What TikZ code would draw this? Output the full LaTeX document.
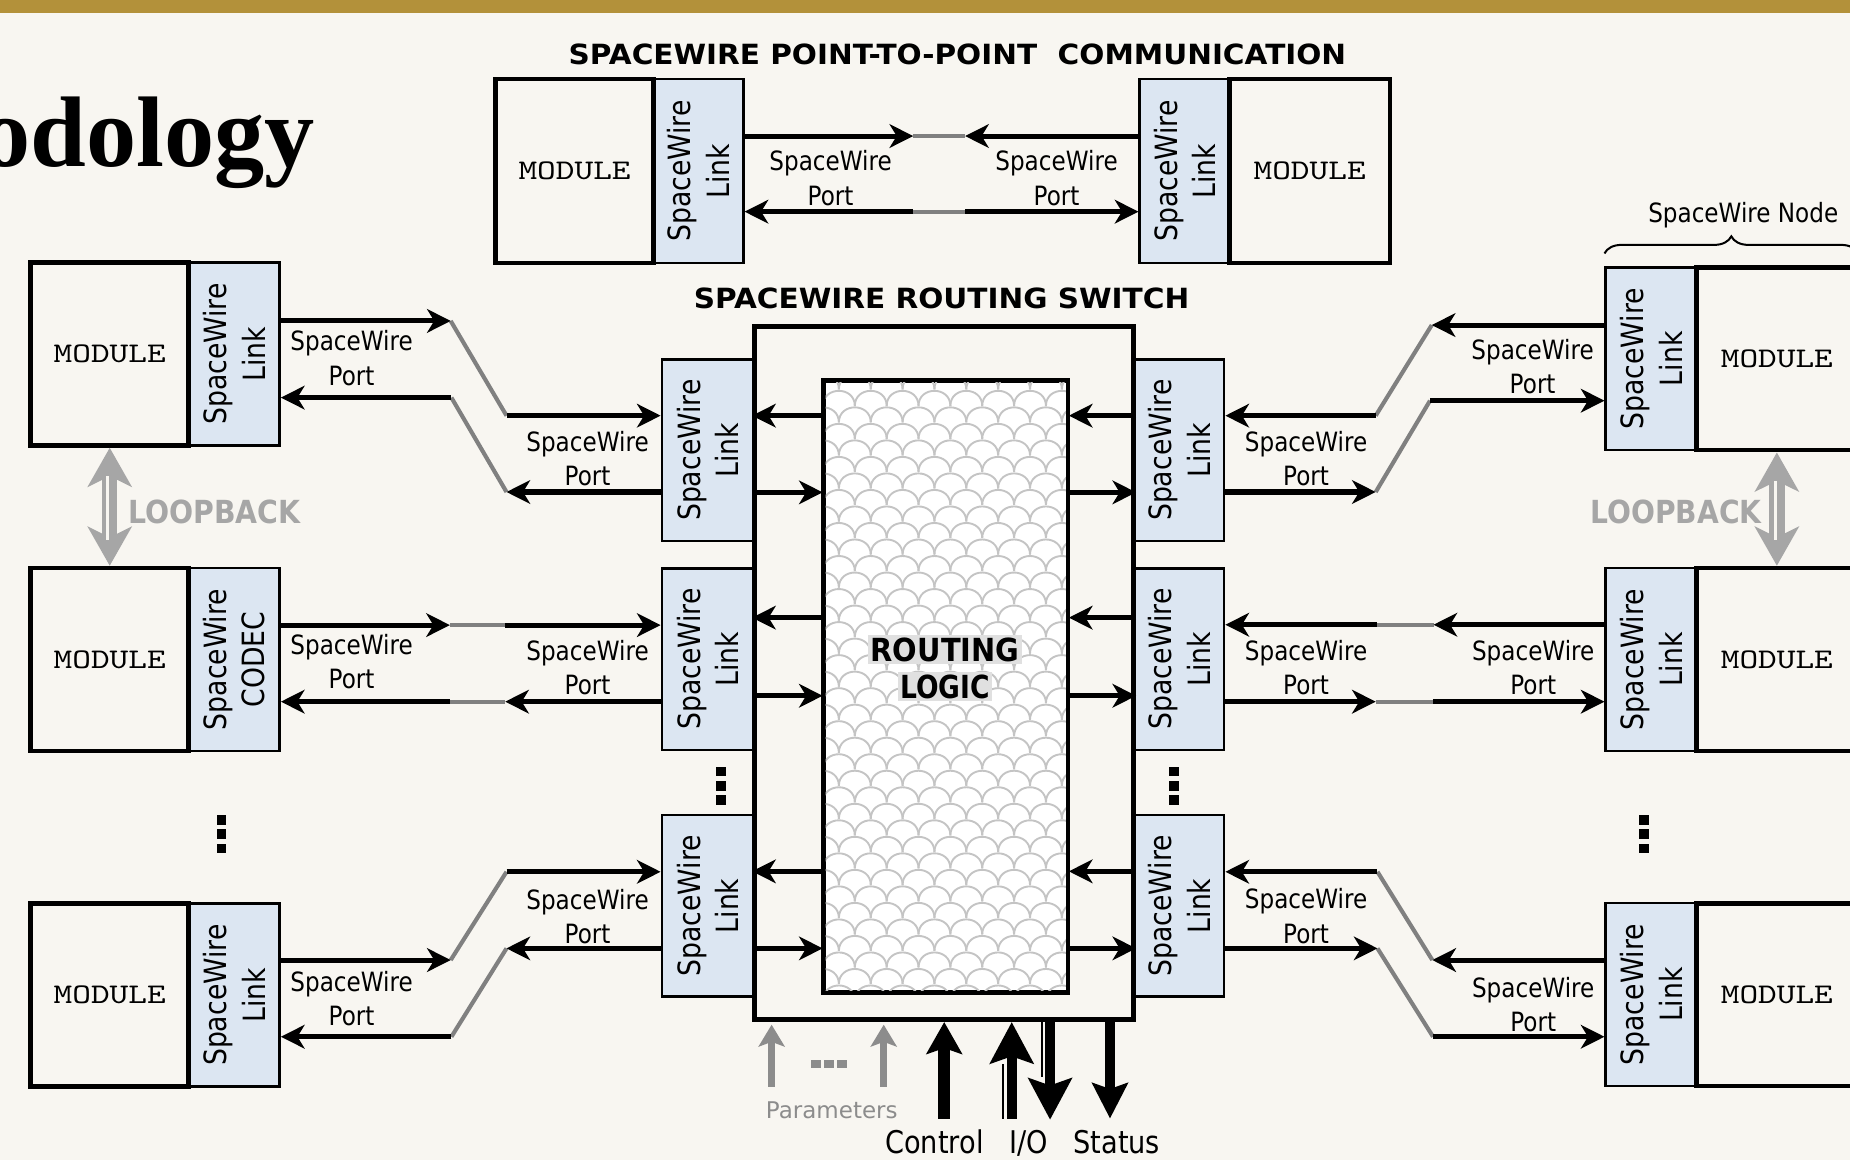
\documentclass[tikz,border=0pt]{standalone}
\usepackage{fontspec}
\usepackage{graphicx}
\usetikzlibrary{arrows.meta,calc,decorations.pathreplacing}
\newfontfamily\swfont[FakeStretch=0.87]{DejaVu Sans}
\newfontfamily\swplain{DejaVu Sans}
\newfontfamily\ttlfont{Liberation Serif}
\definecolor{bgc}{HTML}{F8F6F1}
\definecolor{gold}{HTML}{B3913A}
\definecolor{linkblue}{HTML}{DCE6F2}
\definecolor{midgray}{HTML}{808080}
\definecolor{loopgray}{HTML}{A6A6A6}
\definecolor{pargray}{HTML}{8C8C8C}
\definecolor{scalegray}{HTML}{C4C4C4}
\definecolor{halo}{HTML}{E0E0E0}
\newcommand\modtxt{\resizebox{95pt}{15pt}{\ttfamily MODULE}}
\newcommand\lblfont{\swfont\fontsize{22.5}{29}\selectfont}
\newcommand\rotfont{\swfont\fontsize{26}{32.5}\selectfont}
\setlength\fboxsep{2pt}
\begin{document}
\begin{tikzpicture}[x=1pt,y=-1pt,
  modbox/.style={draw=black, line width=4pt, inner sep=0pt, minimum width=134pt, minimum height=155pt},
  linkbox/.style={draw=black, line width=2.2pt, fill=linkblue, inner sep=0pt, minimum width=77pt, minimum height=155pt},
  lbl/.style={font=\lblfont, align=center, inner sep=0pt},
  rlbl/.style={font=\rotfont, align=center, inner sep=0pt, rotate=90},
  sig/.style={draw=black, line width=4.3pt, -{Stealth[length=20pt,width=20pt,inset=6pt]}},
  graywire/.style={draw=midgray, line width=3.5pt},
  loopar/.style={draw=loopgray, line width=13pt, {Stealth[length=33pt,width=37pt,inset=9pt]}-{Stealth[length=33pt,width=37pt,inset=9pt]}},
  parr/.style={draw=pargray, line width=6pt, -{Stealth[length=18.5pt,width=22pt,inset=4pt]}},
  ctlarr/.style={draw=black, line width=10pt, -{Stealth[length=27pt,width=30pt,inset=5pt]}},
  ioarr/.style={draw=black, line width=8.5pt, -{Stealth[length=35pt,width=36.5pt,inset=6pt]}},
  starr/.style={draw=black, line width=8.5pt, -{Stealth[length=30pt,width=30pt,inset=5pt]}}
]
\fill[bgc] (0,0) rectangle (1568,983);
\useasboundingbox (0,0) rectangle (1568,983);
\clip (0,0) rectangle (1568,983);
\fill[gold] (0,0) rectangle (1568,10.7);

% title and headings
\node[anchor=base east, inner sep=0pt, font=\ttlfont\bfseries\fontsize{85}{100}\selectfont] (title) at (267,141) {odology};
\node[inner sep=0pt] (h1) at (811.5,46.5) {\resizebox{659pt}{17.5pt}{\swplain\bfseries SPACEWIRE POINT-TO-POINT\ \ COMMUNICATION}};
\node[inner sep=0pt] (h2) at (798,253) {\resizebox{420pt}{17.5pt}{\swplain\bfseries SPACEWIRE ROUTING SWITCH}};

% link boxes
\node[linkbox, minimum width=76pt, minimum height=156pt] (l0L) at (592,145) {};
\node[linkbox, minimum width=76pt, minimum height=156pt] (l0R) at (1004,145) {};
\node[linkbox] (l1) at (198.5,300) {};
\node[linkbox] (l2) at (198.5,559) {};
\node[linkbox] (l3) at (198.5,843.5) {};
\node[linkbox] (rl1) at (1399.5,304) {};
\node[linkbox] (rl2) at (1399.5,559) {};
\node[linkbox] (rl3) at (1399.5,843) {};
\node[linkbox, minimum width=78pt, minimum height=154pt] (sA) at (600,381.6) {};
\node[linkbox, minimum width=78pt, minimum height=154pt] (sB) at (600,558.7) {};
\node[linkbox, minimum width=78pt, minimum height=154pt] (sC) at (600,767.8) {};
\node[linkbox, minimum width=76pt, minimum height=154pt] (sAr) at (999.5,381.6) {};
\node[linkbox, minimum width=76pt, minimum height=154pt] (sBr) at (999.5,558.7) {};
\node[linkbox, minimum width=76pt, minimum height=154pt] (sCr) at (999.5,767.8) {};

% modules
\node[modbox, minimum height=156pt] (m0L) at (487,145) {\modtxt};
\node[modbox, minimum width=136pt, minimum height=156pt] (m0R) at (1110,145) {\modtxt};
\node[modbox] (m1) at (93,300) {\modtxt};
\node[modbox] (m2) at (93,559) {\modtxt};
\node[modbox] (m3) at (93,843.5) {\modtxt};
\node[modbox, minimum width=136pt] (rm1) at (1506,304) {\modtxt};
\node[modbox, minimum width=136pt] (rm2) at (1506,559) {\modtxt};
\node[modbox, minimum width=136pt] (rm3) at (1506,843) {\modtxt};

% switch
\node[draw=black, line width=4.5pt, minimum width=321pt, minimum height=587pt, inner sep=0pt] (switch) at (800.2,570.5) {};
\node[draw=black, fill=white, line width=2.5pt, minimum width=206.2pt, minimum height=517.5pt, inner sep=0pt] (logic) at (801.6,581.75) {};
\begin{scope}
  \clip (699.75,324.25) rectangle (903.45,839.25);
  \foreach \r in {0,...,38}{
    \foreach \c in {0,...,8}{
      \pgfmathsetmacro\xx{684+\c*27+mod(\r,2)*13.5}
      \pgfmathsetmacro\yy{330+\r*14}
      \draw[scalegray, line width=1.6pt] (\xx,\yy) .. controls (\xx,\yy-17) and (\xx+27,\yy-17) .. (\xx+27,\yy);
    }
  }
\end{scope}
\draw[line width=2.5pt] (logic.north west) rectangle (logic.south east);
\node[inner sep=0pt, align=center, font=\swplain\bfseries\fontsize{27}{31.2}\selectfont] (rtxt) at (801,566.4)
  {\colorbox{halo}{\resizebox{126pt}{20pt}{ROUTING}}\\\colorbox{halo}{\resizebox{76pt}{20pt}{LOGIC}}};

% junction coordinates
\coordinate (p1) at (774,115.3);   \coordinate (p2) at (818,115.3);
\coordinate (p3) at (774,179.4);   \coordinate (p4) at (818,179.4);
\coordinate (a1) at (382,272);     \coordinate (a2) at (429.3,352.3);
\coordinate (a3) at (429.3,417);   \coordinate (a4) at (382.6,337);
\coordinate (b1) at (381.3,529.8); \coordinate (b2) at (428.2,529.8);
\coordinate (b3) at (428.2,594.7); \coordinate (b4) at (381.3,594.7);
\coordinate (c1) at (382,813.7);   \coordinate (c2) at (429.3,738.9);
\coordinate (c3) at (429.3,803.8); \coordinate (c4) at (382.6,878.7);
\coordinate (d1) at (1213.5,275.5);\coordinate (d2) at (1166,352.3);
\coordinate (d3) at (1166,417);    \coordinate (d4) at (1212,339.6);
\coordinate (e1) at (1215,529.5);  \coordinate (e2) at (1167,529.5);
\coordinate (e3) at (1166,594.7);  \coordinate (e4) at (1214.5,594.7);
\coordinate (f1) at (1214,813.7);  \coordinate (f2) at (1167.5,738.9);
\coordinate (f3) at (1167.5,803.8);\coordinate (f4) at (1214.6,878.7);
\coordinate (iA1) at (0,352.3); \coordinate (iA2) at (0,417.3);
\coordinate (iB1) at (0,523.5); \coordinate (iB2) at (0,589.7);
\coordinate (iC1) at (0,738.5); \coordinate (iC2) at (0,803.8);

% gray joins
\foreach \u/\v in {p1/p2,p3/p4,a1/a2,a3/a4,b1/b2,b3/b4,c1/c2,c3/c4,d1/d2,d3/d4,e1/e2,e3/e4,f1/f2,f3/f4}
  \draw[graywire] (\u) -- (\v);

% point-to-point
\draw[sig] (l0L.east |- p1) -- (p1);
\draw[sig] (l0R.west |- p2) -- (p2);
\draw[sig] (p3) -- (l0L.east |- p3);
\draw[sig] (p4) -- (l0R.west |- p4);
% left side
\draw[sig] (l1.east |- a1) -- (a1);
\draw[sig] (a2) -- (sA.west |- a2);
\draw[sig] (sA.west |- a3) -- (a3);
\draw[sig] (a4) -- (l1.east |- a4);
\draw[sig] (l2.east |- b1) -- (b1);
\draw[sig] (b2) -- (sB.west |- b2);
\draw[sig] (sB.west |- b3) -- (b3);
\draw[sig] (b4) -- (l2.east |- b4);
\draw[sig] (l3.east |- c1) -- (c1);
\draw[sig] (c2) -- (sC.west |- c2);
\draw[sig] (sC.west |- c3) -- (c3);
\draw[sig] (c4) -- (l3.east |- c4);
% right side
\draw[sig] (rl1.west |- d1) -- (d1);
\draw[sig] (d2) -- (sAr.east |- d2);
\draw[sig] (sAr.east |- d3) -- (d3);
\draw[sig] (d4) -- (rl1.west |- d4);
\draw[sig] (rl2.west |- e1) -- (e1);
\draw[sig] (e2) -- (sBr.east |- e2);
\draw[sig] (sBr.east |- e3) -- (e3);
\draw[sig] (e4) -- (rl2.west |- e4);
\draw[sig] (rl3.west |- f1) -- (f1);
\draw[sig] (f2) -- (sCr.east |- f2);
\draw[sig] (sCr.east |- f3) -- (f3);
\draw[sig] (f4) -- (rl3.west |- f4);
% inside the switch
\foreach \ya/\yb in {iA1/iA2, iB1/iB2, iC1/iC2}{
  \draw[sig] (logic.west |- \ya) -- (switch.west |- \ya);
  \draw[sig] (switch.west |- \yb) -- (logic.west |- \yb);
  \draw[sig] (switch.east |- \ya) -- (logic.east |- \ya);
  \draw[sig] (logic.east |- \yb) -- (switch.east |- \yb);
}

% rotated link labels
\foreach \n/\t in {l0L/Link, l0R/Link, l1/Link, l2/CODEC, l3/Link, rl1/Link, rl2/Link, rl3/Link, sA/Link, sB/Link, sC/Link, sAr/Link, sBr/Link, sCr/Link}
  \node[rlbl] (t\n) at (\n) {SpaceWire\\\t};

% port labels
\node[lbl] (lp1) at (704,151) {SpaceWire\\Port};
\node[lbl] (lp2) at (895.5,151) {SpaceWire\\Port};
\node[lbl] (q1) at (298,303.5) {SpaceWire\\Port};
\node[lbl] (qA) at (498,389) {SpaceWire\\Port};
\node[lbl] (q2) at (298,561) {SpaceWire\\Port};
\node[lbl] (qB) at (498,565.5) {SpaceWire\\Port};
\node[lbl] (q3) at (298,846.5) {SpaceWire\\Port};
\node[lbl] (qC) at (498,777) {SpaceWire\\Port};
\node[lbl] (r1) at (1299,311) {SpaceWire\\Port};
\node[lbl] (rA) at (1107,389) {SpaceWire\\Port};
\node[lbl] (rB) at (1107,565.5) {SpaceWire\\Port};
\node[lbl] (r2) at (1299.5,565.5) {SpaceWire\\Port};
\node[lbl] (rC) at (1107,776.5) {SpaceWire\\Port};
\node[lbl] (r3) at (1299.5,851.5) {SpaceWire\\Port};

% vertical ellipses
\foreach \px/\py in {611/650, 995/650, 187.5/691, 1393.5/691}
  \foreach \k in {0,1,2}
    \fill[black] (\px-4,\py+\k*12) rectangle (\px+4,\py+\k*12+8);

% loopback
\draw[loopar] (m1.south) -- (m2.north);
\draw[bgc, line width=3pt] ($(m1.south)+(-2,24)$) -- ($(m2.north)+(-2,-22)$);
\node[inner sep=0pt, text=loopgray] (lbk1) at (181.8,433.7) {\resizebox{146pt}{20pt}{\swplain\bfseries LOOPBACK}};
\draw[loopar] (rm1.south) -- (rm2.north);
\draw[bgc, line width=3pt] ($(rm1.south)+(-1,24)$) -- ($(rm2.north)+(-1,-22)$);
\node[inner sep=0pt, text=loopgray] (lbk2) at (1420.5,433.7) {\resizebox{145pt}{20pt}{\swplain\bfseries LOOPBACK}};

% SpaceWire node brace
\coordinate (br1) at ($(rl1.north west)+(0,-10.6)$);
\coordinate (br2) at ($(br1)+(215,0)$);
\draw[line width=1.7pt, decorate, decoration={brace, amplitude=14.5pt}] (br1) -- (br2);
\node[anchor=base, inner sep=0pt, font=\swfont\fontsize{22.5}{27}\selectfont] (nodelbl) at (1477.5,189) {SpaceWire Node};

% bottom arrows
\coordinate (pa1) at (654,921);
\coordinate (pa2) at (749,921);
\draw[parr, shorten >=2.25pt] (pa1) -- (pa1 |- switch.south);
\draw[parr, shorten >=2.25pt] (pa2) -- (pa2 |- switch.south);
\foreach \k in {0,1,2}
  \fill[pargray] (687+\k*11,898.5) rectangle (695.5+\k*11,905);
\node[anchor=base, inner sep=0pt, text=pargray, font=\swplain\fontsize{19.5}{23}\selectfont] (lpar) at (705,948) {Parameters};

\coordinate (ct) at (800.3,948);
\draw[ctlarr] (ct) -- (ct |- switch.south);
\coordinate (io1) at (857.5,948);
\draw[ioarr] (io1) -- (io1 |- switch.south);
\draw[line width=1.6pt] (849.8,948) -- (849.8,902);
\coordinate (io2) at (890,949);
\draw[ioarr] (io2 |- switch.south) -- (io2);
\draw[line width=1.6pt] (883.2,866) -- (883.2,913);
\coordinate (st) at (940.8,948);
\draw[starr] (st |- switch.south) -- (st);

\node[anchor=base, inner sep=0pt, font=\swfont\fontsize{26.5}{32}\selectfont] (lctl) at (792,978) {Control};
\node[anchor=base, inner sep=0pt, font=\swfont\fontsize{26.5}{32}\selectfont] (lio) at (872,978) {I/O};
\node[anchor=base, inner sep=0pt, font=\swfont\fontsize{26.5}{32}\selectfont] (lst) at (946.5,978) {Status};
\end{tikzpicture}
\end{document}
